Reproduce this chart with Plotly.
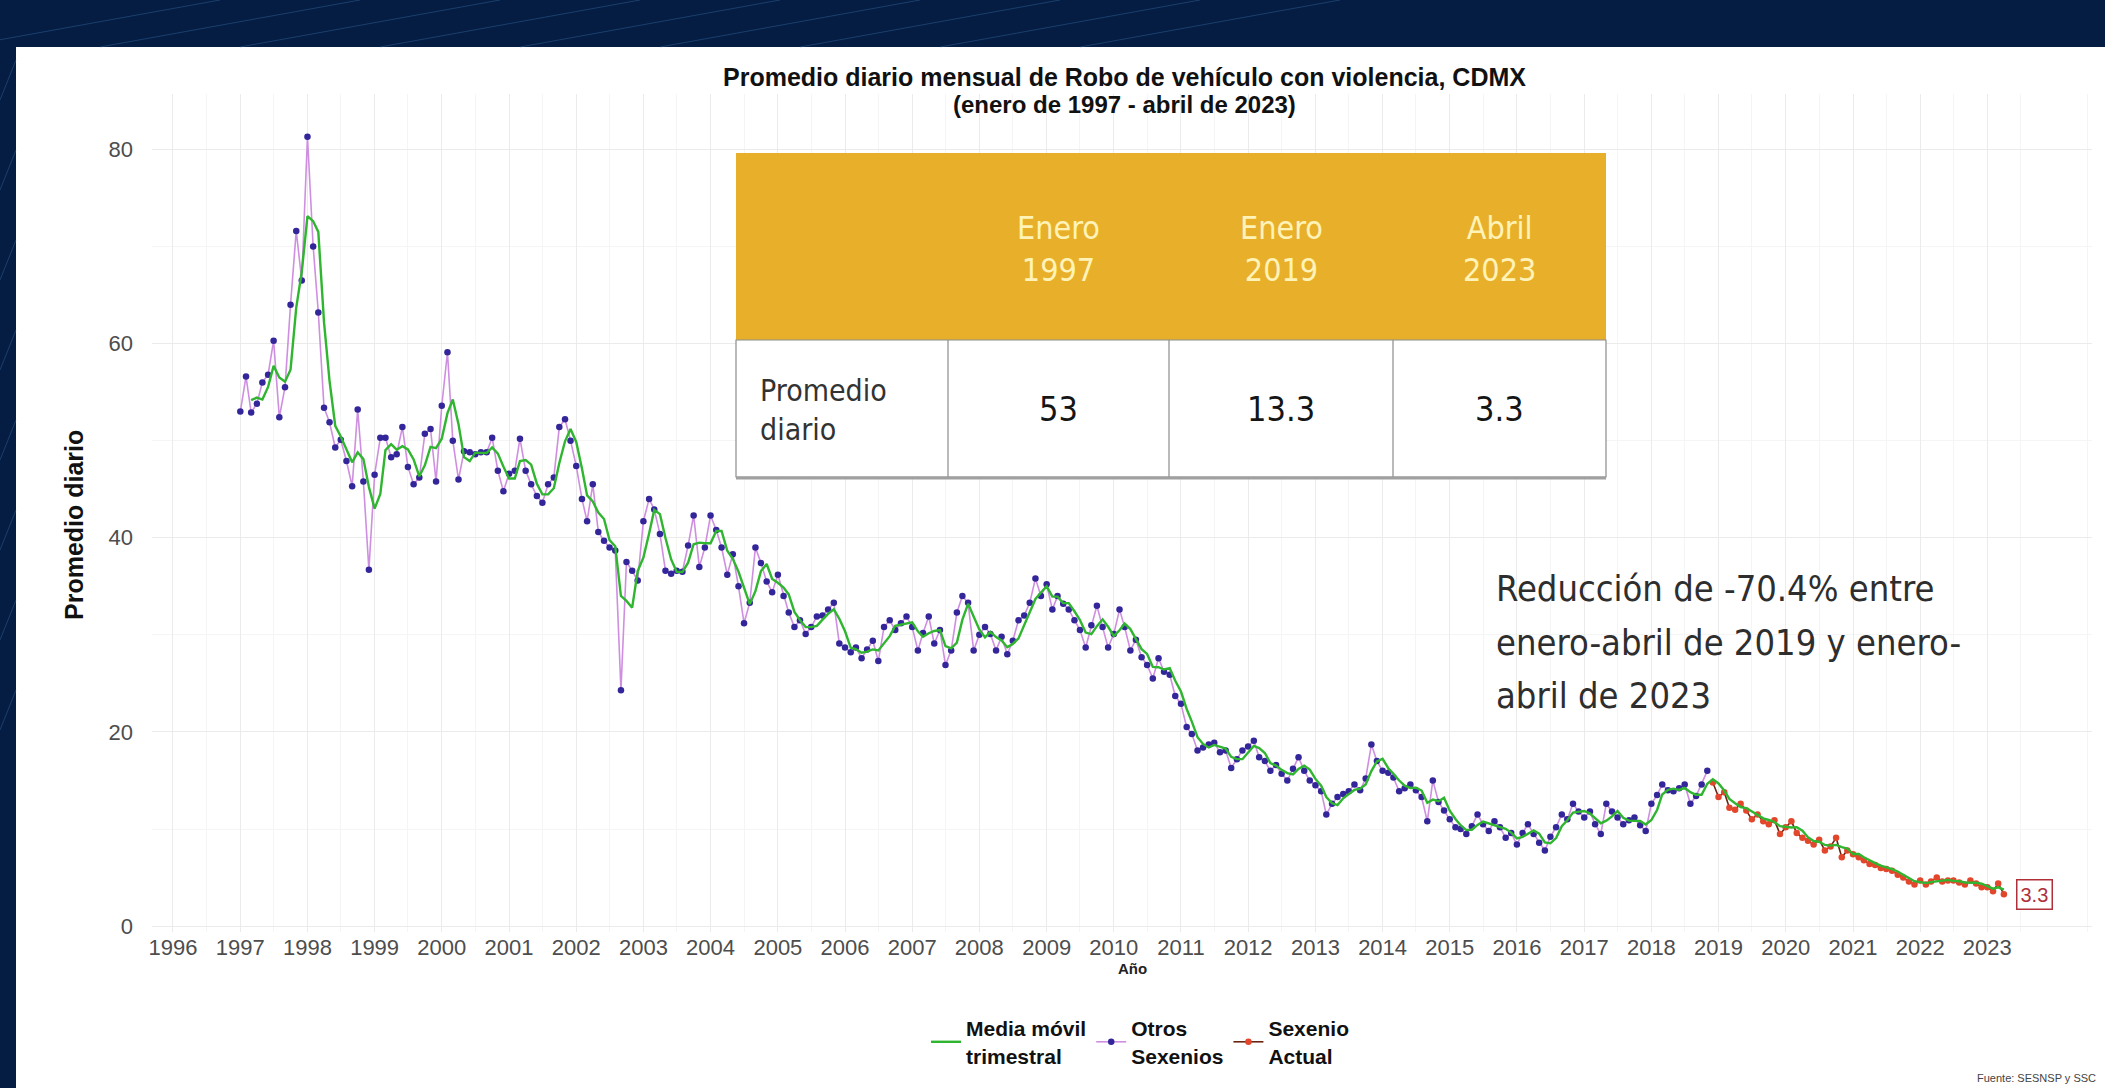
import plotly.graph_objects as go
import pandas as pd

# ---------------- data ----------------
# Promedio diario mensual, enero 1997 - noviembre 2018 (Otros Sexenios)
otros_sexenios = [
    53.0, 56.6, 52.9, 53.8, 56.0, 56.8, 60.3, 52.4, 55.5, 64.0, 71.6, 66.5,   # 1997
    81.3, 70.0, 63.2, 53.4, 51.9, 49.3, 50.1, 47.9, 45.3, 53.2, 45.8, 36.7,   # 1998
    46.5, 50.3, 50.3, 48.3, 48.6, 51.4, 47.3, 45.5, 46.2, 50.7, 51.2, 45.8,   # 1999
    53.6, 59.1, 50.0, 46.0, 48.9, 48.8, 48.6, 48.8, 48.8, 50.3, 46.9, 44.8,   # 2000
    46.6, 46.9, 50.2, 46.9, 45.5, 44.3, 43.6, 45.5, 46.2, 51.4, 52.2, 50.0,   # 2001
    47.4, 44.0, 41.7, 45.5, 40.6, 39.7, 39.0, 38.7, 24.3, 37.5, 36.6, 35.6,   # 2002
    41.7, 44.0, 42.9, 40.4, 36.6, 36.3, 36.6, 36.5, 39.2, 42.3, 37.0, 39.0,   # 2003
    42.3, 40.8, 39.0, 36.2, 38.3, 35.0, 31.2, 33.3, 39.0, 37.4, 35.5, 34.4,   # 2004
    36.2, 34.0, 32.3, 30.8, 31.5, 30.1, 30.8, 31.9, 32.0, 32.6, 33.3, 29.1,   # 2005
    28.7, 28.2, 28.7, 27.6, 28.5, 29.4, 27.3, 30.8, 31.5, 30.5, 31.2, 31.9,   # 2006
    30.8, 28.4, 30.2, 31.9, 29.1, 30.5, 26.9, 28.4, 32.3, 34.0, 33.3, 28.4,   # 2007
    30.0, 30.8, 30.1, 28.4, 29.8, 28.0, 29.4, 31.5, 32.0, 33.3, 35.8, 34.0,   # 2008
    35.2, 32.6, 34.0, 33.2, 32.6, 31.5, 30.5, 28.7, 31.0, 33.0, 30.8, 28.7,   # 2009
    30.1, 32.6, 30.8, 28.4, 29.5, 27.7, 26.9, 25.5, 27.6, 26.2, 25.9, 23.7,   # 2010
    22.9, 20.5, 19.8, 18.1, 18.4, 18.7, 18.9, 17.9, 18.1, 16.3, 17.2, 18.1,   # 2011
    18.5, 19.1, 17.4, 17.0, 16.0, 16.6, 15.7, 15.0, 16.2, 17.4, 16.0, 15.0,   # 2012
    14.5, 13.9, 11.5, 12.6, 13.3, 13.6, 13.9, 14.6, 14.0, 15.2, 18.7, 17.0,   # 2013
    16.0, 15.8, 15.3, 13.9, 14.2, 14.6, 14.0, 13.3, 10.8, 15.0, 12.8, 11.9,   # 2014
    11.0, 10.2, 10.0, 9.5, 10.3, 11.5, 10.5, 9.8, 10.8, 10.2, 9.1, 9.6,       # 2015
    8.4, 9.6, 10.5, 9.5, 8.6, 7.8, 9.2, 10.2, 11.5, 11.0, 12.6, 11.8,         # 2016
    11.2, 11.8, 10.5, 9.5, 12.6, 11.8, 11.2, 10.5, 10.9, 11.2, 10.4, 9.8,     # 2017
    12.6, 13.5, 14.6, 14.0, 13.9, 14.2, 14.6, 12.6, 13.4, 14.6, 16.0,         # 2018 (ene-nov)
]
# Promedio diario mensual, diciembre 2018 - abril 2023 (Sexenio Actual)
sexenio_actual = [
    14.8,                                                                     # 2018 dic
    13.3, 13.8, 12.2, 12.0, 12.6, 11.9, 11.0, 11.5, 10.8, 10.5, 10.9, 9.5,    # 2019
    10.2, 10.8, 9.6, 9.1, 8.8, 8.4, 8.9, 7.8, 8.2, 9.1, 7.1, 7.8,             # 2020
    7.4, 7.1, 6.8, 6.4, 6.3, 6.0, 5.9, 5.7, 5.3, 5.0, 4.6, 4.3,               # 2021
    4.7, 4.3, 4.6, 5.0, 4.6, 4.7, 4.7, 4.5, 4.3, 4.7, 4.4, 4.0,               # 2022
    4.0, 3.6, 4.4, 3.3,                                                       # 2023 (ene-abr)
]
year_ticks = list(range(1996, 2024))
table_headers = ["Enero<br>1997", "Enero<br>2019", "Abril<br>2023"]
table_row_label = "Promedio<br>diario"
table_values = ["53", "13.3", "3.3"]
series_names = ["Media móvil<br>trimestral", "Otros<br>Sexenios", "Sexenio<br>Actual"]
note_lines = ["Reducción de -70.4% entre", "enero-abril de 2019 y enero-", "abril de 2023"]

# ---------------- derived ----------------
months_all = pd.date_range("1997-01-01", periods=len(otros_sexenios) + len(sexenio_actual), freq="MS")
months_otros = months_all[:len(otros_sexenios)]
months_actual = months_all[len(otros_sexenios):]
all_values = pd.Series(otros_sexenios + sexenio_actual)
media_movil = all_values.rolling(3).mean()

# ---------------- layout geometry (pixels) ----------------
W, H = 2105, 1088
L, R, T, B = 152, 2092, 94, 932


def px(x):
    return (x - L) / (R - L)


def py(y):
    return (B - y) / (B - T)


NARROW = "Liberation Sans Narrow, DejaVu Sans Condensed, Arial Narrow, sans-serif"
SANS = "Liberation Sans, Arial, sans-serif"

fig = go.Figure()

fig.add_trace(go.Scatter(
    x=months_otros, y=otros_sexenios, mode="lines+markers",
    name="<b>" + series_names[1] + "</b>", legendrank=2,
    line=dict(color="#cf8fe0", width=1.6),
    marker=dict(color="#33259a", size=6.5),
))
fig.add_trace(go.Scatter(
    x=months_actual, y=sexenio_actual, mode="lines+markers",
    name="<b>" + series_names[2] + "</b>", legendrank=3,
    line=dict(color="#6b2410", width=1.6),
    marker=dict(color="#e2472b", size=6.5),
))
fig.add_trace(go.Scatter(
    x=months_all, y=media_movil, mode="lines",
    name="<b>" + series_names[0] + "</b>", legendrank=1,
    line=dict(color="#2fb52f", width=2.4),
))

shapes = []
# white panel over navy background
shapes.append(dict(type="rect", xref="paper", yref="paper", layer="below",
                   x0=px(16), x1=px(2115), y0=py(1100), y1=py(47),
                   fillcolor="white", line=dict(width=0)))
# decorative faint lines on the navy frame
for i in range(9):
    x0 = -40 + i * 140
    shapes.append(dict(type="line", xref="paper", yref="paper", layer="below",
                       x0=px(x0), y0=py(47), x1=px(x0 + 260), y1=py(0),
                       line=dict(color="rgba(70,125,190,0.35)", width=1)))
for i in range(8):
    y0 = 60 + i * 90
    shapes.append(dict(type="line", xref="paper", yref="paper", layer="below",
                       x0=px(0), y0=py(y0 + 40), x1=px(16), y1=py(y0),
                       line=dict(color="rgba(70,125,190,0.35)", width=1)))

# table
TX0, TX1 = 736, 1606
TY0, TY1, TY2 = 153, 340, 477
cols = [736, 948, 1169, 1393, 1606]
shapes.append(dict(type="rect", xref="paper", yref="paper",
                   x0=px(TX0), x1=px(TX1), y0=py(TY1), y1=py(TY0),
                   fillcolor="#e8b02a", line=dict(width=0)))
shapes.append(dict(type="rect", xref="paper", yref="paper",
                   x0=px(TX0), x1=px(TX1), y0=py(TY2), y1=py(TY1),
                   fillcolor="white", line=dict(color="#8c8c8c", width=1.2)))
for cx in cols[1:-1]:
    shapes.append(dict(type="line", xref="paper", yref="paper",
                       x0=px(cx), x1=px(cx), y0=py(TY2), y1=py(TY1),
                       line=dict(color="#8c8c8c", width=1.2)))
shapes.append(dict(type="line", xref="paper", yref="paper",
                   x0=px(TX0), x1=px(TX1), y0=py(TY2 + 1), y1=py(TY2 + 1),
                   line=dict(color="#a0a0a0", width=3)))

annotations = []
# titles
annotations.append(dict(xref="paper", yref="paper", x=px(1124), y=py(77),
                        text="<b>Promedio diario mensual de Robo de vehículo con violencia, CDMX</b>",
                        showarrow=False, font=dict(family=SANS, size=25, color="#111111"),
                        xanchor="center", yanchor="middle"))
annotations.append(dict(xref="paper", yref="paper", x=px(1124), y=py(104),
                        text="<b>(enero de 1997 - abril de 2023)</b>",
                        showarrow=False, font=dict(family=SANS, size=24, color="#111111"),
                        xanchor="center", yanchor="middle"))
# axis titles
annotations.append(dict(xref="paper", yref="paper", x=px(74), y=py(525),
                        text="<b>Promedio diario</b>", textangle=-90, showarrow=False,
                        font=dict(family=SANS, size=25, color="#111111"),
                        xanchor="center", yanchor="middle"))
annotations.append(dict(xref="paper", yref="paper", x=px(1132), y=py(968),
                        text="<b>Año</b>", showarrow=False,
                        font=dict(family=SANS, size=15, color="#222222"),
                        xanchor="center", yanchor="middle"))
# table texts
for i, htxt in enumerate(table_headers):
    cx = (cols[i + 1] + cols[i + 2]) / 2
    annotations.append(dict(xref="paper", yref="paper", x=px(cx), y=py(249),
                            text=htxt, showarrow=False, align="center",
                            font=dict(family=NARROW, size=32, color="#fff3b8"),
                            xanchor="center", yanchor="middle"))
    annotations.append(dict(xref="paper", yref="paper", x=px(cx), y=py(409),
                            text=table_values[i], showarrow=False,
                            font=dict(family=NARROW, size=34, color="#151515"),
                            xanchor="center", yanchor="middle"))
annotations.append(dict(xref="paper", yref="paper", x=px(758), y=py(410),
                        text=table_row_label, showarrow=False, align="left",
                        font=dict(family=NARROW, size=30, color="#333333"),
                        xanchor="left", yanchor="middle"))
# reduction note, one annotation per line
for i, line in enumerate(note_lines):
    annotations.append(dict(xref="paper", yref="paper", x=px(1494), y=py(588 + 54 * i),
                            text=line, showarrow=False, align="left",
                            font=dict(family=NARROW, size=36, color="#2e2e2e"),
                            xanchor="left", yanchor="middle"))
# last value label
annotations.append(dict(x=months_actual[-1], y=sexenio_actual[-1],
                        text=f"{sexenio_actual[-1]}", showarrow=False,
                        xanchor="left", yanchor="middle", xshift=12,
                        font=dict(family=SANS, size=20, color="#b0303a"),
                        bgcolor="white", bordercolor="#b0303a", borderwidth=1.5, borderpad=3))
# source
annotations.append(dict(xref="paper", yref="paper", x=px(2098), y=py(1078),
                        text="Fuente: SESNSP y SSC", showarrow=False,
                        font=dict(family=SANS, size=11, color="#444444"),
                        xanchor="right", yanchor="middle"))

fig.update_layout(
    width=W, height=H,
    margin=dict(l=L, r=W - R, t=T, b=H - B, pad=0),
    paper_bgcolor="#051d42",
    plot_bgcolor="white",
    shapes=shapes,
    annotations=annotations,
    showlegend=True,
    legend=dict(orientation="h", x=px(1140), xanchor="center", y=py(1008), yanchor="top",
                font=dict(family=SANS, size=21, color="#111111"),
                bgcolor="rgba(0,0,0,0)", traceorder="normal"),
    xaxis=dict(
        type="date",
        range=["1995-09-09", "2024-07-23"],
        tickvals=[pd.Timestamp(f"{y}-01-01") for y in year_ticks],
        ticktext=[str(y) for y in year_ticks],
        showgrid=True, gridcolor="#ebebeb", gridwidth=1,
        minor=dict(tick0="1996-07-01", dtick="M12", showgrid=True, gridcolor="#f5f5f5"),
        zeroline=False, showline=False, ticks="",
        tickfont=dict(family=SANS, size=22, color="#4d4d4d"),
    ),
    yaxis=dict(
        range=[-0.6, 85.7],
        tickvals=[0, 20, 40, 60, 80],
        showgrid=True, gridcolor="#ebebeb", gridwidth=1,
        minor=dict(tickvals=[10, 30, 50, 70], showgrid=True, gridcolor="#f5f5f5"),
        zeroline=False, showline=False, ticks="",
        ticklabelstandoff=18,
        tickfont=dict(family=SANS, size=22, color="#4d4d4d"),
    ),
)

fig.write_html("out.html")
